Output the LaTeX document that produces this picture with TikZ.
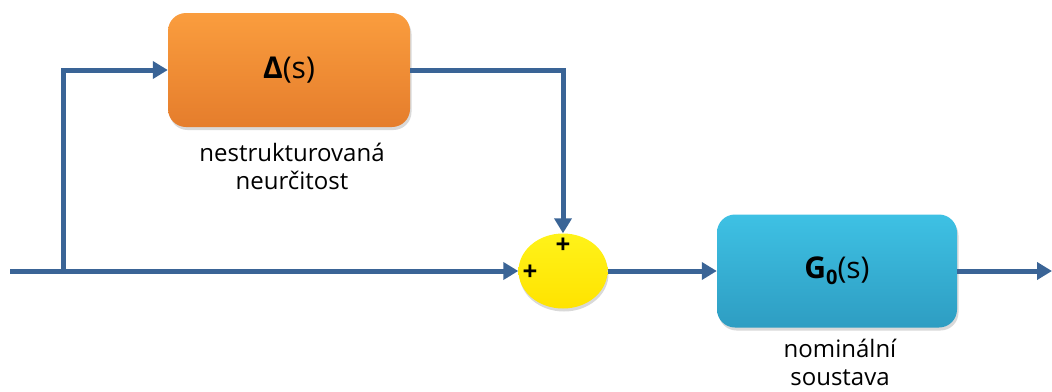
\documentclass[tikz,border=0pt]{standalone}
\usepackage{fontspec}
\setmainfont{Open Sans}
\usetikzlibrary{arrows.meta,shapes.geometric,shadows}
\definecolor{wire}{HTML}{3A6496}
\definecolor{orangetop}{HTML}{FA9D3E}
\definecolor{orangebot}{HTML}{E57D2C}
\definecolor{tealtop}{HTML}{3EC1E4}
\definecolor{tealbot}{HTML}{2E9DC2}
\definecolor{sumyellow}{HTML}{FFF100}
\begin{document}
\begin{tikzpicture}[x=1pt,y=-1pt,
  wire/.style={draw=wire,line width=5pt,
    -{Triangle[length=15pt,width=17pt]}},
  plain wire/.style={draw=wire,line width=5pt},
  blockbox/.style={rounded corners=18pt,inner sep=0pt,
    drop shadow={shadow xshift=1.5pt,shadow yshift=-3pt,opacity=0.3}},
  uncertainty/.style={blockbox,top color=orangetop,bottom color=orangebot,
    minimum width=242pt,minimum height=114pt},
  nominal/.style={blockbox,top color=tealtop,bottom color=tealbot,
    minimum width=240pt,minimum height=113pt},
  sumnode/.style={ellipse,inner sep=0pt,minimum width=89pt,minimum height=75pt,
    top color=sumyellow!90!white,bottom color=sumyellow!88!orange,
    drop shadow={shadow xshift=1pt,shadow yshift=-3pt,opacity=0.3}},
  boxtext/.style={font=\fontsize{30}{34}\selectfont},
  caption/.style={font=\fontsize{24}{28}\selectfont,inner sep=0pt,align=center},
  sign/.style={font=\fontsize{26}{26}\selectfont\bfseries,inner sep=0pt}
]
\useasboundingbox (0,0) rectangle (1052,391);

% blocks
\node[uncertainty,boxtext] (delta) at (289,70) {\textbf{Δ}(s)};
\node[nominal,boxtext] (g0) at (837,271)
  {\textbf{G\raisebox{-0.35ex}{\fontsize{20}{20}\selectfont 0}}(s)};
\node[sumnode] (sum) at (563,271) {};

% captions
\node[caption,anchor=north] (capdelta) at (292,143)
  {nestrukturovaná\\neurčitost};
\node[caption,anchor=north] (capg0) at (840,339)
  {nominální\\soustava};

% signs at the summing junction
\node[sign] (plustop) at (563,246) {+};
\node[sign] (plusleft) at (530,273) {+};

% signal routing points
\coordinate (in) at (10,271);
\coordinate (split) at (63,271);
\coordinate (up) at (63,70);
\coordinate (down) at (563,70);
\coordinate (out) at (1052,271);

% connectors
\draw[plain wire] (in) -- (split);
\draw[wire] (split) -- (sum.west);
\draw[wire] (split) -- (up) -- (delta.west);
\draw[wire] (delta.east) -- (down) -- (sum.north);
\draw[wire] (sum.east) -- (g0.west);
\draw[wire] (g0.east) -- (out);
\end{tikzpicture}
\end{document}
